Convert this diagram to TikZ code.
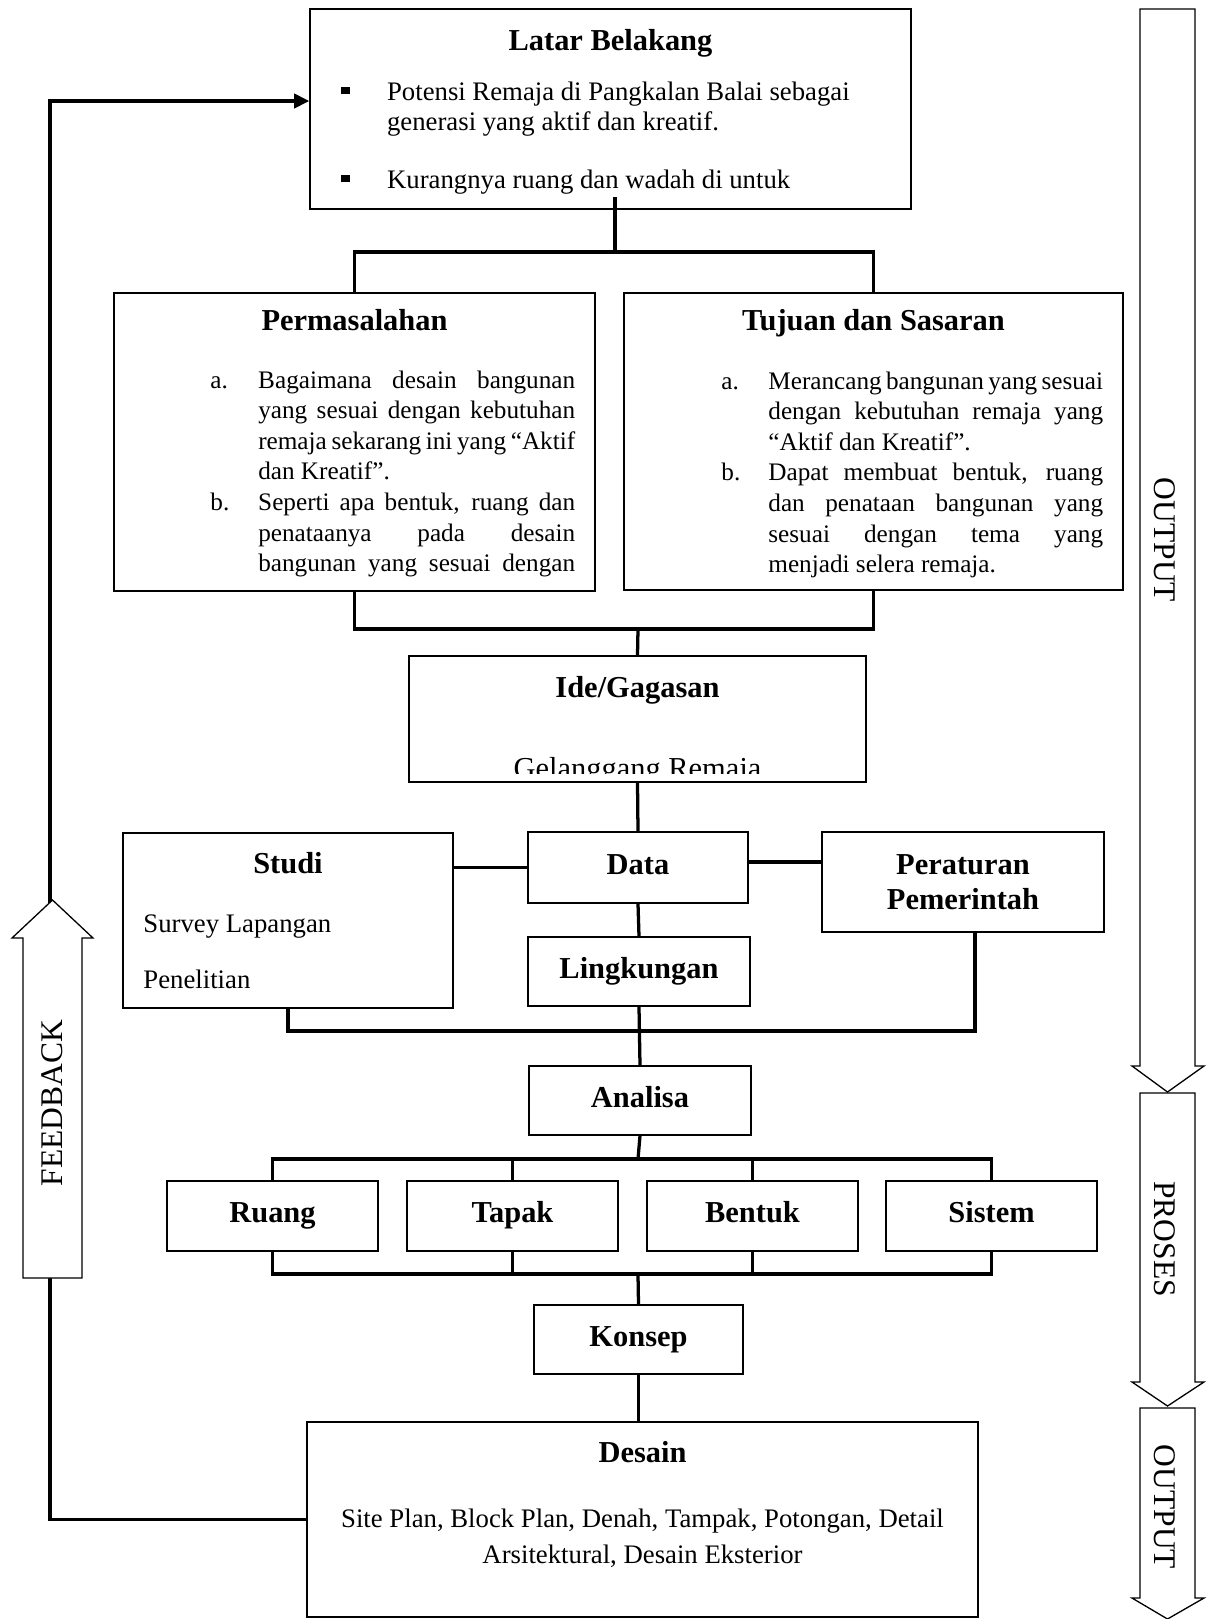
\documentclass[tikz,border=0pt]{standalone}
\usepackage{fontspec}
\setmainfont{Liberation Serif}
\usepackage{tikz}
\usetikzlibrary{calc,arrows.meta}
\newcommand{\sqbullet}{\rule[2.6pt]{3.8pt}{3.6pt}}
\newcommand{\justline}[2]{\makebox[#1][s]{\spaceskip=0.12em plus 1fil\relax #2}}
\tikzset{
  sz/.style 2 args={minimum width=#1*0.46pt, minimum height=#2*0.46pt},
  box/.style={draw=black, line width=0.6pt, fill=white, inner sep=0pt},
  tbox/.style={box, font=\fontsize{14}{16}\selectfont\bfseries, text height=9.8pt, text depth=3.5pt},
  hd/.style={font=\fontsize{14}{16}\selectfont\bfseries, inner sep=0pt},
  txt/.style={font=\fontsize{12.3}{14}\selectfont, inner sep=0pt},
  lst/.style={font=\fontsize{11.6}{14.1}\selectfont, inner sep=0pt},
  side/.style={font=\fontsize{14.5}{16}\selectfont, inner sep=0pt},
  conn/.style={draw=black, line width=1.5pt},
  back/.style={draw=black, line width=1.8pt},
  hollow/.style={draw=black, line width=0.6pt, fill=white},
}

\begin{document}
\begin{tikzpicture}[x=0.46pt, y=-0.46pt]
  \useasboundingbox (0,0) rectangle (1211,1619);
  \def\pw{145.8pt}
  \def\tw{154pt}

  % boxes
  \node[box, sz={601}{200}] (latar) at (610.5,109) {};
  \node[box, sz={481}{298}] (perm) at (354.5,442) {};
  \node[box, sz={499}{297}] (tuj) at (873.5,441.5) {};
  \node[box, sz={457}{126}] (ide) at (637.5,719) {};
  \node[box, sz={330}{175}] (studi) at (288,920.5) {};
  \node[tbox, sz={220}{71}] (data) at (638,867.5) {Data};
  \node[box, sz={282}{100}, font=\fontsize{14}{16.1}\selectfont\bfseries, align=center] (perat) at (963,882) {Peraturan\\Pemerintah};
  \node[tbox, sz={222}{69}] (lingk) at (639,971.5) {Lingkungan};
  \node[tbox, sz={222}{69}] (analisa) at (640,1100.5) {Analisa};
  \foreach \nm/\cx/\lab in {ruang/272.5/Ruang, tapak/512.5/Tapak, bentuk/752.5/Bentuk, sistem/991.5/Sistem}
    \node[tbox, sz={211}{70}] (\nm) at (\cx,1216) {\lab};
  \node[tbox, sz={209}{69}] (konsep) at (638.5,1339.5) {Konsep};
  \node[box, sz={671}{195}] (desain) at (642.5,1519.5) {};

  % texts
  \node[hd, anchor=base] (latarT) at (610.5,50) {Latar Belakang};
  \node[txt, anchor=base west] (latarA) at (341,100) {\begin{tabular}[t]{@{}p{21pt}@{}l@{}}
    \sqbullet & Potensi Remaja di Pangkalan Balai sebagai\\
              & generasi yang aktif dan kreatif.
  \end{tabular}};
  \node[txt, anchor=base west] (latarB) at (341,188) {\begin{tabular}[t]{@{}p{21pt}@{}l@{}}
    \sqbullet & Kurangnya ruang dan wadah di untuk
  \end{tabular}};

  \node[hd, anchor=base] (permT) at (354.5,330) {Permasalahan};
  \node[lst, anchor=base west] (permL) at (210,388) {\begin{tabular}[t]{@{}p{22pt}@{}l@{}}
    a. & \justline{\pw}{Bagaimana desain bangunan}\\
       & \justline{\pw}{yang sesuai dengan kebutuhan}\\
       & \justline{\pw}{remaja sekarang ini yang “Aktif}\\
       & dan Kreatif”.\\
    b. & \justline{\pw}{Seperti apa bentuk, ruang dan}\\
       & \justline{\pw}{penataanya pada desain}\\
       & \justline{\pw}{bangunan yang sesuai dengan}
  \end{tabular}};

  \node[hd, anchor=base] (tujT) at (873.5,330) {Tujuan dan Sasaran};
  \node[lst, anchor=base west] (tujL) at (721,389) {\begin{tabular}[t]{@{}p{21.6pt}@{}l@{}}
    a. & \justline{\tw}{Merancang bangunan yang sesuai}\\
       & \justline{\tw}{dengan kebutuhan remaja yang}\\
       & “Aktif dan Kreatif”.\\
    b. & \justline{\tw}{Dapat membuat bentuk, ruang}\\
       & \justline{\tw}{dan penataan bangunan yang}\\
       & \justline{\tw}{sesuai dengan tema yang}\\
       & menjadi selera remaja.
  \end{tabular}};

  \node[hd, anchor=base] (ideT) at (637.5,697) {Ide/Gagasan};
  \begin{scope}
    \clip (409,740) rectangle (866,773);
    \node[anchor=base, inner sep=0pt, font=\fontsize{14}{16}\selectfont] (ideA) at (637.5,778) {Gelanggang Remaja};
  \end{scope}

  \node[hd, anchor=base] (studiT) at (288,873) {Studi};
  \node[txt, anchor=base west] (studiA) at (143,932) {Survey Lapangan};
  \node[txt, anchor=base west] (studiB) at (143,988) {Penelitian};

  \node[hd, anchor=base] (desainT) at (642.5,1462) {Desain};
  \node[txt, anchor=base] (desainA) at (642.5,1527) {Site Plan, Block Plan, Denah, Tampak, Potongan, Detail};
  \node[txt, anchor=base] (desainB) at (642.5,1563) {Arsitektural, Desain Eksterior};

  % connectors
  \coordinate (lt) at (615,197);
  \coordinate (t1) at (615,252);
  \coordinate (t2) at (638,629);
  \coordinate (t3) at (639,1031);
  \coordinate (t4) at (638,1159);
  \coordinate (t5) at (638,1274);
  \draw[conn] (lt) -- (t1);
  \draw[conn] (perm.north) |- (t1) -| (tuj.north);
  \draw[conn] (perm.south) |- (t2) -| (tuj.south);
  \draw[conn] (t2) -- (ide.north);
  \draw[conn] (ide.south) -- (data.north);
  \draw[conn] (studi.east |- data.west) -- (data.west);
  \draw[conn] ([yshift=2.5pt]data.east) -- ([yshift=2.5pt]data.east -| perat.west);
  \draw[conn] (data.south) -- (lingk.north);
  \draw[conn] (studi.south) |- (t3) -| ([xshift=5.5pt]perat.south);
  \draw[conn] (lingk.south) -- (analisa.north);
  \draw[conn] (analisa.south) -- (t4);
  \draw[conn] (ruang.north) |- (t4) -| (sistem.north);
  \draw[conn] (tapak.north) -- (tapak.north |- t4);
  \draw[conn] (bentuk.north) -- (bentuk.north |- t4);
  \draw[conn] (ruang.south) |- (t5) -| (sistem.south);
  \draw[conn] (tapak.south) -- (tapak.south |- t5);
  \draw[conn] (bentuk.south) -- (bentuk.south |- t5);
  \draw[conn] (t5) -- (konsep.north);
  \draw[conn] (konsep.south) -- (konsep.south |- desain.north);

  % feedback loop
  \coordinate (fbTop) at (50,101);
  \draw[back, -{Triangle[length=7pt, width=6.5pt]}] (desain.west) -| (fbTop) -- (fbTop -| latar.west);
  \draw[hollow] (23,1278) -- (23,938) -- (12,938) -- (52.5,900) -- (93,938) -- (82,938) -- (82,1278) -- cycle;
  \node[side, rotate=90] (fbLab) at (52.5,1103) {FEEDBACK};

  % side arrows
  \foreach \ta/\tb/\tc in {9/1066/1092, 1093/1382/1406, 1408/1598/1619}
    \draw[hollow] (1140,\ta) -- (1195,\ta) -- (1195,\tb) -- (1204,\tb) -- (1167.5,\tc) -- (1132,\tb) -- (1140,\tb) -- cycle;
  \node[side, rotate=-90] (outA) at (1165,540) {OUTPUT};
  \node[side, rotate=-90] (proLab) at (1165,1239) {PROSES};
  \node[side, rotate=-90] (outB) at (1165,1507) {OUTPUT};
\end{tikzpicture}
\end{document}
